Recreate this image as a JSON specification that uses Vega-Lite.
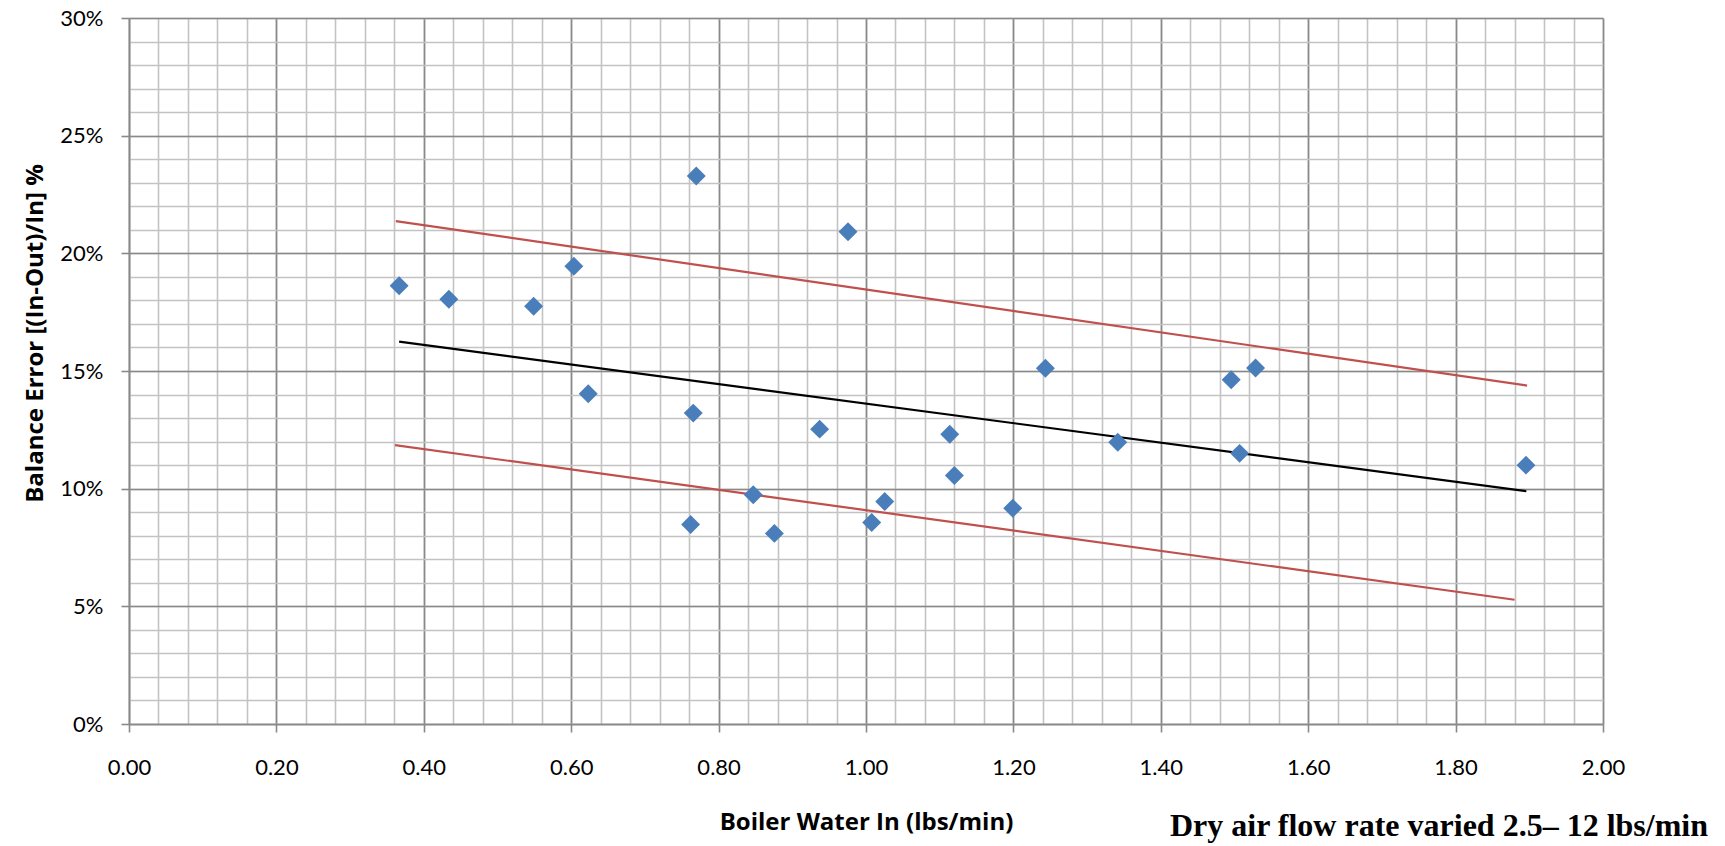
{
  "$schema": "https://vega.github.io/schema/vega-lite/v6.json",
  "width": 1474,
  "height": 706,
  "autosize": "none",
  "padding": {"left": 129, "top": 18, "right": 122, "bottom": 122},
  "background": "white",
  "config": {
    "view": {"stroke": null},
    "axis": {"labelColor": "#000000", "titleColor": "#000000"}
  },
  "title": {
    "text": "Dry air flow rate varied 2.5– 12 lbs/min",
    "orient": "bottom",
    "anchor": "end",
    "frame": "group",
    "font": "Liberation Serif",
    "fontSize": 32,
    "fontWeight": "bold",
    "color": "#000000",
    "offset": -23,
    "dx": 105
  },
  "datasets": {
    "points": [
      {"water": 0.3665, "error": 18.62},
      {"water": 0.434, "error": 18.05},
      {"water": 0.549, "error": 17.75},
      {"water": 0.6036, "error": 19.45},
      {"water": 0.6231, "error": 14.03},
      {"water": 0.7697, "error": 23.29},
      {"water": 0.7656, "error": 13.21},
      {"water": 0.762, "error": 8.48},
      {"water": 0.847, "error": 9.74},
      {"water": 0.8757, "error": 8.1},
      {"water": 0.9371, "error": 12.53},
      {"water": 0.9756, "error": 20.92},
      {"water": 1.0077, "error": 8.56},
      {"water": 1.0254, "error": 9.45},
      {"water": 1.1136, "error": 12.31},
      {"water": 1.1199, "error": 10.56},
      {"water": 1.1991, "error": 9.17},
      {"water": 1.2434, "error": 15.12},
      {"water": 1.3416, "error": 11.97},
      {"water": 1.4955, "error": 14.63},
      {"water": 1.5286, "error": 15.13},
      {"water": 1.5069, "error": 11.5},
      {"water": 1.8955, "error": 11.0}
    ],
    "lines": [
      {"band": "fit", "water": 0.3665, "error": 16.25},
      {"band": "fit", "water": 1.896, "error": 9.89},
      {"band": "upper", "water": 0.362, "error": 21.37},
      {"band": "upper", "water": 1.897, "error": 14.38},
      {"band": "lower", "water": 0.361, "error": 11.85},
      {"band": "lower", "water": 1.88, "error": 5.28}
    ]
  },
  "layer": [
    {
      "data": {"name": "points"},
      "mark": {"type": "point", "opacity": 0},
      "encoding": {
        "x": {
          "field": "water", "type": "quantitative",
          "scale": {"domain": [0, 2], "nice": false, "zero": false},
          "axis": {
            "orient": "bottom",
            "values": [0, 0.04, 0.08, 0.12, 0.16, 0.2, 0.24, 0.28, 0.32, 0.36, 0.4, 0.44, 0.48, 0.52, 0.56, 0.6, 0.64, 0.68, 0.72, 0.76, 0.8, 0.84, 0.88, 0.92, 0.96, 1.0, 1.04, 1.08, 1.12, 1.16, 1.2, 1.24, 1.28, 1.32, 1.36, 1.4, 1.44, 1.48, 1.52, 1.56, 1.6, 1.64, 1.68, 1.72, 1.76, 1.8, 1.84, 1.88, 1.92, 1.96, 2.0],
            "grid": true, "gridColor": "#c3c3c3", "gridWidth": 1.6,
            "labels": false, "ticks": false, "domain": false, "title": null
          }
        },
        "y": {
          "field": "error", "type": "quantitative",
          "scale": {"domain": [0, 30], "nice": false, "zero": false},
          "axis": {
            "orient": "left",
            "values": [0, 1, 2, 3, 4, 5, 6, 7, 8, 9, 10, 11, 12, 13, 14, 15, 16, 17, 18, 19, 20, 21, 22, 23, 24, 25, 26, 27, 28, 29, 30],
            "grid": true, "gridColor": "#c3c3c3", "gridWidth": 1.6,
            "labels": false, "ticks": false, "domain": false, "title": null
          }
        }
      }
    },
    {
      "data": {"name": "lines"},
      "mark": {"type": "line", "strokeWidth": 2.2},
      "encoding": {
        "x": {
          "field": "water", "type": "quantitative",
          "scale": {"domain": [0, 2], "nice": false, "zero": false},
          "axis": {
            "orient": "bottom",
            "values": [0, 0.2, 0.4, 0.6, 0.8, 1.0, 1.2, 1.4, 1.6, 1.8, 2.0],
            "format": ".2f",
            "grid": true, "gridColor": "#898989", "gridWidth": 1.6,
            "domain": true, "domainColor": "#898989", "domainWidth": 1.6,
            "ticks": true, "tickColor": "#898989", "tickWidth": 1.6, "tickSize": 8,
            "labelFont": "Lato", "labelFontSize": 22, "labelPadding": 25,
            "labelFlush": false, "labelOverlap": false,
            "title": "Boiler Water In (lbs/min)",
            "titleFont": "Open Sans", "titleFontSize": 24, "titleFontWeight": "bold",
            "titleY": 98, "titleBaseline": "middle"
          }
        },
        "y": {
          "field": "error", "type": "quantitative",
          "scale": {"domain": [0, 30], "nice": false, "zero": false},
          "axis": {
            "orient": "left",
            "values": [0, 5, 10, 15, 20, 25, 30],
            "labelExpr": "datum.value + '%'",
            "grid": true, "gridColor": "#898989", "gridWidth": 1.6,
            "domain": true, "domainColor": "#898989", "domainWidth": 1.6,
            "ticks": true, "tickColor": "#898989", "tickWidth": 1.6, "tickSize": 8,
            "labelFont": "Lato", "labelFontSize": 22, "labelPadding": 18,
            "labelFlush": false, "labelOverlap": false,
            "title": "Balance Error [(In-Out)/In] %",
            "titleFont": "Open Sans", "titleFontSize": 24, "titleFontWeight": "bold",
            "titleX": -94, "titleY": 315, "titleBaseline": "middle", "titleAlign": "center"
          }
        },
        "color": {
          "field": "band", "type": "nominal",
          "scale": {"domain": ["fit", "upper", "lower"], "range": ["#000000", "#C0504D", "#C0504D"]},
          "legend": null
        }
      }
    },
    {
      "data": {"name": "points"},
      "mark": {"type": "point", "shape": "diamond", "filled": true, "size": 360, "color": "#4A7EBB", "opacity": 1},
      "encoding": {
        "x": {"field": "water", "type": "quantitative", "scale": {"domain": [0, 2], "nice": false, "zero": false}, "axis": null},
        "y": {"field": "error", "type": "quantitative", "scale": {"domain": [0, 30], "nice": false, "zero": false}, "axis": null}
      }
    }
  ],
  "resolve": {"axis": {"x": "independent", "y": "independent"}}
}
